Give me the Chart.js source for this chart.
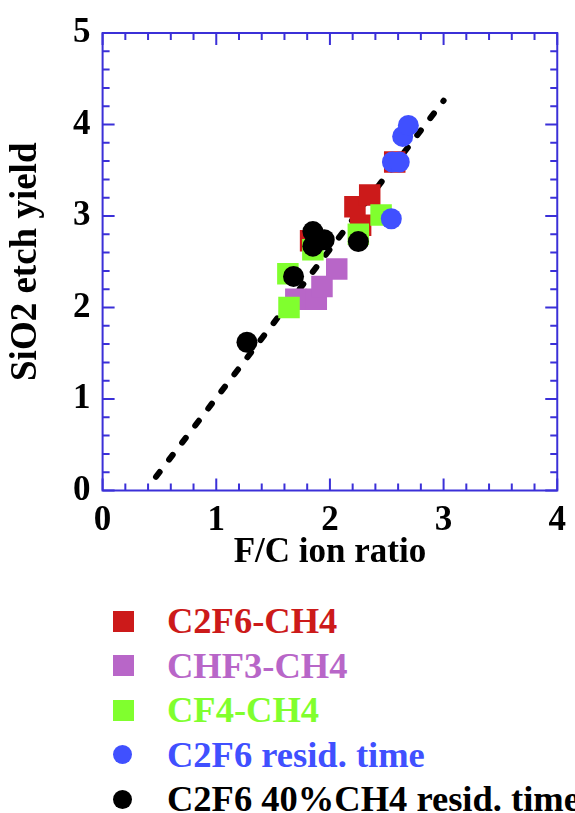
<!DOCTYPE html>
<html>
<head>
<meta charset="utf-8">
<script src="https://cdn.jsdelivr.net/npm/chart.js@4/dist/chart.umd.min.js"></script>
<style>
  body { margin: 0; width: 575px; height: 813px; overflow: hidden; background: #fff; }
  #wrap { position: relative; width: 575px; height: 580px; }
  #legend { position: absolute; left: 0; top: 599px; width: 575px; overflow: hidden;
            font: bold 36.5px "Liberation Serif", "Times New Roman", serif; }
  .row { position: relative; height: 44.5px; white-space: nowrap; }
  .mark { position: absolute; left: 113px; top: 50%; }
  .txt { position: absolute; left: 167px; top: 0; line-height: 44.5px; }
</style>
</head>
<body>
<div id="wrap"><canvas id="myChart" width="575" height="580"></canvas></div>
<div id="legend"></div>
<script>
// series
var c2f6X = [1.83, 2.22, 2.27, 2.35, 2.57];
var c2f6Y = [2.73, 3.10, 2.90, 3.23, 3.59];
var chf3X = [1.70, 1.88, 1.93, 2.06];
var chf3Y = [2.09, 2.09, 2.23, 2.42];
var cf4X = [1.64, 1.63, 1.85, 2.25, 2.45];
var cf4Y = [2.00, 2.37, 2.63, 2.80, 3.01];
var residX = [2.54, 2.55, 2.61, 2.64, 2.69];
var residY = [2.97, 3.59, 3.59, 3.87, 3.99];
var ch4ResidX = [1.27, 1.68, 1.85, 1.85, 1.95, 2.25];
var ch4ResidY = [1.62, 2.34, 2.83, 2.67, 2.74, 2.72];
var fitX = [0.47, 3.00];
var fitY = [0.15, 4.26];

var xTicks = [0, 1, 2, 3, 4];
var yTicks = [0, 1, 2, 3, 4, 5];
var minorStep = 0.2;

var labels = ['C2F6-CH4', 'CHF3-CH4', 'CF4-CH4', 'C2F6 resid. time', 'C2F6 40%CH4 resid. time'];
var colors = ['#cc1a1a', '#b866c8', '#80ff2e', '#4050ff', '#000000'];
var axisColor = '#3b30d8';
var font = '"Liberation Serif", "Times New Roman", serif';

function pts(xs, ys) {
    return xs.map(function (x, i) { return { x: x, y: ys[i] }; });
}

function scatterSet(i, xs, ys, shape) {
    return {
        type: 'scatter',
        label: labels[i],
        data: pts(xs, ys),
        pointStyle: shape,
        pointRadius: shape == 'rect' ? 15.2 : 10.5,
        pointHoverRadius: shape == 'rect' ? 15.2 : 10.5,
        backgroundColor: colors[i],
        borderColor: colors[i],
        borderWidth: 0,
        order: 5 - i
    };
}

// frame with inward ticks on all four sides
var framePlugin = {
    id: 'frame',
    afterDraw: function (chart) {
        var c = chart.ctx, a = chart.chartArea;
        var xs = chart.scales.x, ys = chart.scales.y;
        c.save();
        c.strokeStyle = axisColor;
        c.lineWidth = 2;
        c.strokeRect(a.left, a.top, a.right - a.left, a.bottom - a.top);
        c.beginPath();
        for (var v = 0; v <= 4.001; v += minorStep) {
            var len = Math.abs(v - Math.round(v)) < 0.01 ? 12 : 7;
            var px = xs.getPixelForValue(v);
            c.moveTo(px, a.bottom); c.lineTo(px, a.bottom - len);
            c.moveTo(px, a.top); c.lineTo(px, a.top + len);
        }
        for (var w = 0; w <= 5.001; w += minorStep) {
            var len2 = Math.abs(w - Math.round(w)) < 0.01 ? 12 : 7;
            var py = ys.getPixelForValue(w);
            c.moveTo(a.left, py); c.lineTo(a.left + len2, py);
            c.moveTo(a.right, py); c.lineTo(a.right - len2, py);
        }
        c.stroke();
        c.restore();
    }
};

var ctx = document.getElementById('myChart').getContext('2d');
var chart = new Chart(ctx, {
    data: {
        datasets: [
            scatterSet(0, c2f6X, c2f6Y, 'rect'),
            scatterSet(1, chf3X, chf3Y, 'rect'),
            scatterSet(2, cf4X, cf4Y, 'rect'),
            scatterSet(3, residX, residY, 'circle'),
            scatterSet(4, ch4ResidX, ch4ResidY, 'circle'),
            {
                type: 'line',
                label: 'fit',
                data: pts(fitX, fitY),
                borderColor: '#000',
                borderWidth: 6,
                borderDash: [6, 15.5],
                borderCapStyle: 'round',
                pointRadius: 0,
                fill: false,
                order: 6
            }
        ]
    },
    options: {
        responsive: false,
        animation: false,
        devicePixelRatio: 1,
        layout: { padding: { left: 0, right: 9.6, top: 30, bottom: 0 } },
        plugins: { legend: { display: false }, tooltip: { enabled: false } },
        scales: {
            x: {
                type: 'linear', min: 0, max: 4,
                afterBuildTicks: function (s) { s.ticks = xTicks.map(function (v) { return { value: v }; }); },
                afterFit: function (s) { s.height = 89.5; },
                grid: { display: false, drawTicks: false },
                border: { display: false },
                ticks: { color: '#000', padding: 9, font: { family: font, size: 35, weight: 'bold' } },
                title: { display: true, text: 'F/C ion ratio', color: '#000', padding: { bottom: 6 },
                         font: { family: font, size: 35, weight: 'bold' } }
            },
            y: {
                type: 'linear', min: 0, max: 5,
                afterBuildTicks: function (s) { s.ticks = yTicks.map(function (v) { return { value: v }; }); },
                afterFit: function (s) { s.width = 102.6; },
                grid: { display: false, drawTicks: false },
                border: { display: false },
                ticks: { color: '#000', padding: 12, font: { family: font, size: 35, weight: 'bold' } },
                title: { display: true, text: 'SiO2 etch yield', color: '#000', padding: { top: 4 },
                         font: { family: font, size: 37, weight: 'bold' } }
            }
        }
    },
    plugins: [framePlugin]
});

// legend below the chart, built from the datasets
chart.data.datasets.slice(0, 5).forEach(function (ds) {
    var round = ds.pointStyle == 'circle';
    var sz = round ? 19 : 21;
    $row = document.createElement('div');
    $row.className = 'row';
    $row.innerHTML = '<span class="mark" style="width:' + sz + 'px;height:' + sz + 'px;margin-top:' + (-sz / 2) +
        'px;background:' + ds.backgroundColor + ';border-radius:' + (round ? '50%' : '0') + '"></span>' +
        '<span class="txt" style="color:' + ds.backgroundColor + '">' + ds.label + '</span>';
    document.getElementById('legend').appendChild($row);
});
</script>
</body>
</html>
